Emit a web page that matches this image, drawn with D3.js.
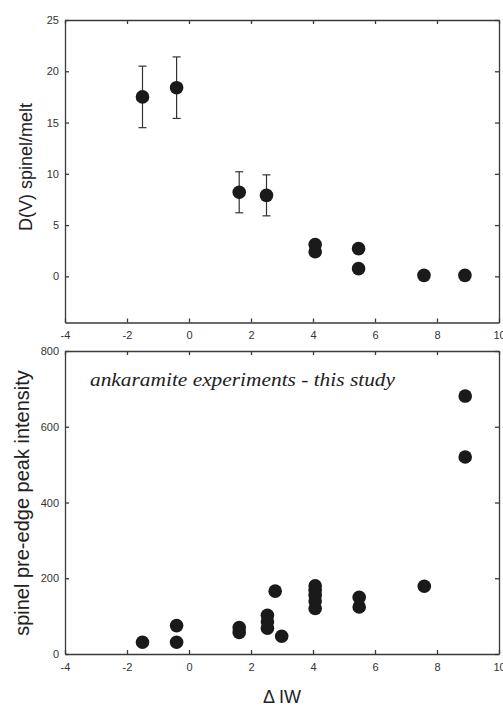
<!DOCTYPE html>
<html>
<head>
<meta charset="utf-8">
<script src="https://cdn.jsdelivr.net/npm/d3@7"></script>
<style>
  html, body { margin: 0; padding: 0; background: #fff; }
  svg { display: block; }
  .axis text { font-family: "Liberation Sans", Arial, sans-serif; font-size: 11px; fill: #333; }
  .axis path, .axis line { stroke: #3a3a3a; stroke-width: 1.3; }
</style>
</head>
<body>
<svg id="chart" width="503" height="706"></svg>
<script>
// ΔIW values and vanadium partitioning (upper panel)
const dIW     = [-1.5, -0.4, 1.62, 2.5, 4.07, 4.07, 5.47, 5.47, 7.58, 8.9];
const dV      = [17.5, 18.4, 8.2, 7.9, 3.1, 2.4, 2.7, 0.75, 0.1, 0.1];
const dVError = [3.0, 3.0, 2.0, 2.0, null, null, null, null, null, null];

// ΔIW values and spinel pre-edge peak intensity (lower panel)
const peakIW        = [-1.5, -0.4, -0.4, 1.62, 1.62, 2.53, 2.53, 2.53, 2.78, 2.99,
                       4.07, 4.07, 4.07, 4.07, 4.07, 5.49, 5.49, 7.59, 8.91, 8.91];
const peakIntensity = [31, 75, 31, 70, 57, 102, 85, 68, 166, 47,
                       180, 168, 155, 140, 120, 150, 124, 179, 681, 520];

const xTicks      = [-4, -2, 0, 2, 4, 6, 8, 10];
const dVTicks     = [0, 5, 10, 15, 20, 25];
const peakTicks   = [0, 200, 400, 600, 800];

const svg = d3.select("#chart");
const left = 65, right = 499;
const x = d3.scaleLinear().domain([-4, 10]).range([left, right]);
const plain = d => String(d);   // hyphen-minus, as printed on the axes

function frame(g, yScale, yTicks, top, bottom) {
  // bottom axis with labels, inward ticks
  g.append("g").attr("class", "axis")
    .attr("transform", `translate(0,${bottom})`)
    .call(d3.axisBottom(x).tickValues(xTicks).tickFormat(plain).tickSize(-4).tickSizeOuter(0).tickPadding(7))
    .call(s => s.selectAll("text").attr("dy", "0.9em"));
  // top axis, ticks only
  g.append("g").attr("class", "axis")
    .attr("transform", `translate(0,${top})`)
    .call(d3.axisTop(x).tickValues(xTicks).tickSize(-4).tickSizeOuter(0).tickFormat(""));
  // left axis with labels
  g.append("g").attr("class", "axis")
    .attr("transform", `translate(${left},0)`)
    .call(d3.axisLeft(yScale).tickValues(yTicks).tickFormat(plain).tickSize(-4).tickSizeOuter(0).tickPadding(6));
  // right axis, ticks only
  g.append("g").attr("class", "axis")
    .attr("transform", `translate(${right},0)`)
    .call(d3.axisRight(yScale).tickValues(yTicks).tickSize(-4).tickSizeOuter(0).tickFormat(""));
}

// ---- upper panel: D(V) spinel/melt ----
const topY = d3.scaleLinear().domain([-4.5, 25]).range([322.5, 20]);
const gTop = svg.append("g");
frame(gTop, topY, dVTicks, 20, 322.5);

const errData = dIW.map((v, i) => ({ x: v, y: dV[i], e: dVError[i] })).filter(d => d.e != null);
const eb = gTop.append("g").attr("stroke", "#333").attr("stroke-width", 1.2);
errData.forEach(d => {
  eb.append("line").attr("x1", x(d.x)).attr("x2", x(d.x)).attr("y1", topY(d.y - d.e)).attr("y2", topY(d.y + d.e));
  [d.y - d.e, d.y + d.e].forEach(v =>
    eb.append("line").attr("x1", x(d.x) - 4).attr("x2", x(d.x) + 4).attr("y1", topY(v)).attr("y2", topY(v)));
});
gTop.append("g").selectAll("circle")
  .data(dIW.map((v, i) => [v, dV[i]]))
  .join("circle")
  .attr("cx", d => x(d[0])).attr("cy", d => topY(d[1])).attr("r", 6.8)
  .attr("fill", "#1a1a1a");

gTop.append("text")
  .attr("transform", "translate(32,167) rotate(-90)")
  .attr("text-anchor", "middle")
  .attr("font-family", "Liberation Sans, Arial, sans-serif")
  .attr("font-size", 18).attr("fill", "#222")
  .text("D(V) spinel/melt");

// ---- lower panel: spinel pre-edge peak intensity ----
const botY = d3.scaleLinear().domain([0, 800]).range([654, 351]);
const gBot = svg.append("g");
frame(gBot, botY, peakTicks, 351, 654);

gBot.append("g").selectAll("circle")
  .data(peakIW.map((v, i) => [v, peakIntensity[i]]))
  .join("circle")
  .attr("cx", d => x(d[0])).attr("cy", d => botY(d[1])).attr("r", 6.8)
  .attr("fill", "#1a1a1a");

gBot.append("text")
  .attr("x", 90).attr("y", 386)
  .attr("font-family", "Liberation Serif, Times New Roman, serif")
  .attr("font-style", "italic")
  .attr("font-size", 19).attr("fill", "#222")
  .attr("textLength", 305).attr("lengthAdjust", "spacingAndGlyphs")
  .text("ankaramite experiments - this study");

gBot.append("text")
  .attr("transform", "translate(29,503) rotate(-90)")
  .attr("text-anchor", "middle")
  .attr("font-family", "Liberation Sans, Arial, sans-serif")
  .attr("font-size", 20).attr("fill", "#222")
  .text("spinel pre-edge peak intensity");

svg.append("text")
  .attr("x", 282).attr("y", 703)
  .attr("text-anchor", "middle")
  .attr("font-family", "Liberation Sans, Arial, sans-serif")
  .attr("font-size", 18).attr("fill", "#222")
  .text("Δ IW");
</script>
</body>
</html>
